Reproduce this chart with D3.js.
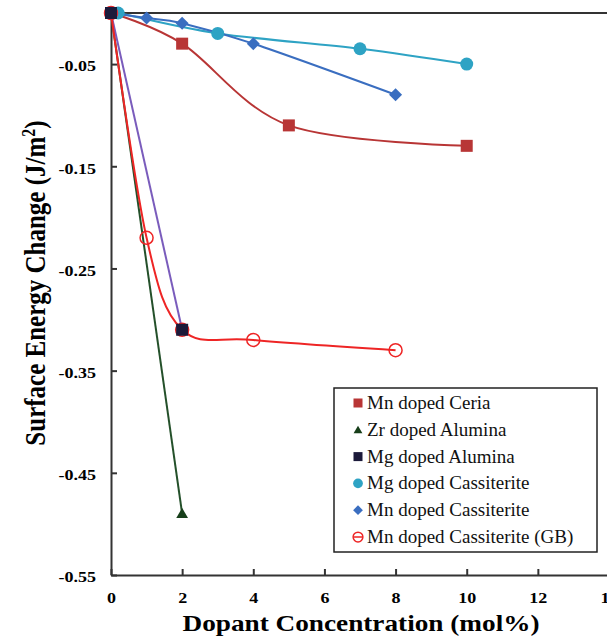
<!DOCTYPE html>
<html>
<head>
<meta charset="utf-8">
<script src="https://cdn.jsdelivr.net/npm/d3@7"></script>
<style>
  body { margin: 0; background: #fff; }
  svg { display: block; }
  svg text { font-family: "Liberation Serif", "Times New Roman", serif; }
</style>
</head>
<body>
<svg id="chart" width="607" height="640"></svg>
<script>
// series data
var ceriaX = [0, 2, 5, 10];
var ceriaY = [0, -0.03, -0.11, -0.13];
var zrAluX = [0, 2];
var zrAluY = [0, -0.49];
var mgAluX = [0, 2];
var mgAluY = [0, -0.31];
var mgCassX = [0, 0.2, 3, 7, 10];
var mgCassY = [0, 0, -0.02, -0.035, -0.05];
var mnCassX = [0, 1, 2, 4, 8];
var mnCassY = [0, -0.005, -0.01, -0.03, -0.08];
var gbX = [0, 1, 2, 4, 8];
var gbY = [0, -0.22, -0.31, -0.32, -0.33];

var xTicks = [0, 2, 4, 6, 8, 10, 12, 14];
var yTicks = [-0.05, -0.15, -0.25, -0.35, -0.45, -0.55];

var seriesNames = ["Mn doped Ceria", "Zr doped Alumina", "Mg doped Alumina",
  "Mg doped Cassiterite", "Mn doped Cassiterite", "Mn doped Cassiterite (GB)"];

var FONT = '"Liberation Serif", "Times New Roman", serif';
var svg = d3.select("#chart");

var x = d3.scaleLinear().domain([0, 14]).range([111, 609]);
var y = d3.scaleLinear().domain([-0.55, 0]).range([575, 13]);

function zip(xs, ys) { return xs.map(function(v, i){ return [v, ys[i]]; }); }

var series = [
  {name: seriesNames[0], pts: zip(ceriaX, ceriaY), line: "#b83535", fill: "#b83535", stroke: "#b83535", shape: "square", smooth: true},
  {name: seriesNames[1], pts: zip(zrAluX, zrAluY), line: "#24502a", fill: "#173f1a", stroke: "#173f1a", shape: "triangle", smooth: false},
  {name: seriesNames[2], pts: zip(mgAluX, mgAluY), line: "#7a5cbc", fill: "#1c1a3a", stroke: "#1c1a3a", shape: "square", smooth: false},
  {name: seriesNames[3], pts: zip(mgCassX, mgCassY), line: "#2ea3c4", fill: "#2ea3c4", stroke: "#2ea3c4", shape: "circle", smooth: true},
  {name: seriesNames[4], pts: zip(mnCassX, mnCassY), line: "#3a6ec0", fill: "#3a6ec0", stroke: "#3a6ec0", shape: "diamond", smooth: true},
  {name: seriesNames[5], pts: zip(gbX, gbY), line: "#ee2525", fill: "none", stroke: "#ee2525", shape: "open", smooth: true}
];

// axes (ticks point inward)
var yAxis = d3.axisLeft(y).tickValues(yTicks).tickSizeInner(-6).tickSizeOuter(0)
  .tickPadding(15).tickFormat(function(d){ return d.toFixed(2); });
var xAxis = d3.axisBottom(x).tickValues(xTicks).tickSizeInner(-6).tickSizeOuter(0)
  .tickPadding(17).tickFormat(function(d){ return String(d); });

var gy = svg.append("g").attr("transform", "translate(111,0)").call(yAxis);
var gx = svg.append("g").attr("transform", "translate(0,575)").call(xAxis);
[gx, gy].forEach(function(g){
  g.attr("font-family", null);
  g.select(".domain").attr("stroke", "#333").attr("stroke-width", 2);
  g.selectAll(".tick line").attr("stroke", "#333").attr("stroke-width", 2);
  g.selectAll(".tick text").attr("fill", "#000").style("font-family", FONT)
    .style("font-size", "15px").style("font-weight", "bold")
    .each(function(){
      // the reference glyphs are a bit wider than Times
      var w = this.getComputedTextLength();
      d3.select(this).attr("textLength", w * 1.2).attr("lengthAdjust", "spacingAndGlyphs");
    });
});
gy.selectAll(".tick text").attr("dy", "0.45em");

// top frame line
svg.append("line").attr("x1", x(0)).attr("x2", x(14)).attr("y1", y(0)).attr("y2", y(0))
  .attr("stroke", "#333").attr("stroke-width", 2);

// axis titles
svg.append("text").attr("x", 361).attr("y", 631).attr("text-anchor", "middle")
  .style("font-family", FONT).style("font-size", "24px").style("font-weight", "bold")
  .attr("textLength", 357).attr("lengthAdjust", "spacingAndGlyphs")
  .text("Dopant Concentration (mol%)");

var yt = svg.append("text").attr("transform", "translate(45,283) scale(1.15,1) rotate(-90)")
  .attr("text-anchor", "middle").style("font-family", FONT)
  .style("font-size", "25px").style("font-weight", "bold");
yt.append("tspan").text("Surface Energy Change (J/m");
yt.append("tspan").attr("dy", "-9").style("font-size", "16px").text("2");
yt.append("tspan").attr("dy", "9").text(")");

// lines
var straight = d3.line().x(function(d){ return x(d[0]); }).y(function(d){ return y(d[1]); });
var smooth = d3.line().x(function(d){ return x(d[0]); }).y(function(d){ return y(d[1]); })
  .curve(d3.curveCatmullRom.alpha(0));

series.forEach(function(s){
  svg.append("path").datum(s.pts)
    .attr("d", s.smooth ? smooth : straight)
    .attr("fill", "none").attr("stroke", s.line).attr("stroke-width", 2);
});

function drawMarker(g, shape, cx, cy, fill, stroke, k) {
  k = k || 1;
  if (shape === "square") {
    g.append("rect").attr("x", cx - 6 * k).attr("y", cy - 6 * k)
      .attr("width", 12 * k).attr("height", 12 * k).attr("fill", fill);
  } else if (shape === "triangle") {
    g.append("path").attr("d", d3.symbol(d3.symbolTriangle, 60 * k * k)()).attr("transform", "translate(" + cx + "," + (cy + 1) + ")")
      .attr("fill", fill);
  } else if (shape === "circle") {
    g.append("circle").attr("cx", cx).attr("cy", cy).attr("r", 6.5 * k).attr("fill", fill);
  } else if (shape === "diamond") {
    var r = 6.5 * k;
    g.append("path").attr("d", "M" + cx + "," + (cy - r) + "L" + (cx + r) + "," + cy + "L" + cx + "," + (cy + r) + "L" + (cx - r) + "," + cy + "Z")
      .attr("fill", fill);
  } else if (shape === "open") {
    g.append("circle").attr("cx", cx).attr("cy", cy).attr("r", 6.5 * k).attr("fill", "none")
      .attr("stroke", stroke).attr("stroke-width", 1.5);
  }
}

// markers (Mg doped Alumina drawn last so its square shows over the GB circle)
[0, 1, 3, 5, 4, 2].forEach(function(i){
  var s = series[i];
  var g = svg.append("g");
  s.pts.forEach(function(p){
    drawMarker(g, s.shape, x(p[0]), y(p[1]), s.fill, s.stroke);
  });
});

// legend
var leg = svg.append("g");
leg.append("rect").attr("x", 334).attr("y", 388).attr("width", 263).attr("height", 164)
  .attr("fill", "#fff").attr("stroke", "#222").attr("stroke-width", 1.5);
series.forEach(function(s, i){
  var ly = 403 + i * 26.8;
  drawMarker(leg, s.shape, 358, ly, s.fill, s.stroke, 0.75);
  if (s.shape === "open") {
    leg.append("line").attr("x1", 354).attr("x2", 362).attr("y1", ly).attr("y2", ly)
      .attr("stroke", s.stroke).attr("stroke-width", 1.5);
  }
  leg.append("text").attr("x", 367).attr("y", ly + 6)
    .style("font-family", FONT).style("font-size", "19px").attr("fill", "#111").text(s.name);
});
</script>
</body>
</html>
